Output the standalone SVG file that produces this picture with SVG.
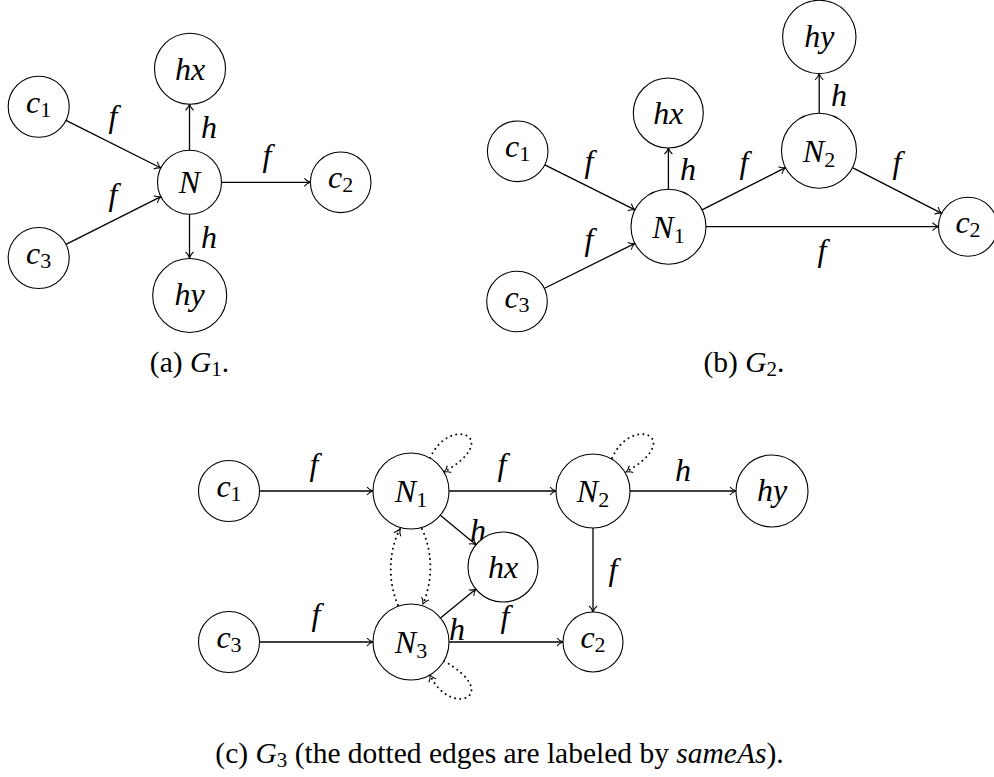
<svg xmlns="http://www.w3.org/2000/svg" width="994" height="777" viewBox="0 0 994 777">
<style>
.nd { fill: #fff; stroke: #000; stroke-width: 1.1; }
.e { fill: none; stroke: #000; stroke-width: 1.3; marker-end: url(#arr); }
.d { fill: none; stroke: #000; stroke-width: 2; stroke-linecap: round; stroke-dasharray: 0.01 5.2; marker-end: url(#arr); }
.m { font-family: "Liberation Serif", "Times New Roman", serif; font-style: italic; font-size: 32px; text-anchor: middle; fill: #000; }
.s { font-style: normal; font-size: 22px; }
.cap { font-family: "Liberation Serif", "Times New Roman", serif; font-size: 29.5px; text-anchor: middle; fill: #000; }
.i { font-style: italic; }
</style>
<defs>
<marker id="arr" markerUnits="userSpaceOnUse" viewBox="-8 -6 10 12" refX="0" refY="0" markerWidth="10" markerHeight="12" orient="auto" overflow="visible">
<path d="M-6,-4 C-4.5,-2 -1.5,-0.5 0,0 C-1.5,0.5 -4.5,2 -6,4" fill="none" stroke="#000" stroke-width="1.1" stroke-dasharray="none"/>
</marker>
</defs>

<g id="connectors">
<!-- G1 -->
<line class="e" x1="66" y1="120.4" x2="160.9" y2="168"/>
<line class="e" x1="66" y1="244.4" x2="160.9" y2="196.6"/>
<line class="e" x1="189.5" y1="150.3" x2="189.5" y2="104.2"/>
<line class="e" x1="189.5" y1="214.3" x2="189.5" y2="258"/>
<line class="e" x1="221.5" y1="182.3" x2="310.4" y2="182.3"/>
<!-- G2 -->
<line class="e" x1="544.8" y1="164.8" x2="635" y2="209.9"/>
<line class="e" x1="544.1" y1="288.5" x2="634.9" y2="243.4"/>
<line class="e" x1="668.4" y1="189.2" x2="668.4" y2="148"/>
<line class="e" x1="702" y1="209.8" x2="785.5" y2="167.6"/>
<line class="e" x1="819.2" y1="113.2" x2="819.2" y2="73.7"/>
<line class="e" x1="852.4" y1="167.7" x2="941.7" y2="213.3"/>
<line class="e" x1="706" y1="226.7" x2="938.5" y2="226.7"/>
<!-- G3 -->
<line class="e" x1="259.5" y1="491" x2="373" y2="491"/>
<line class="e" x1="449" y1="491" x2="556" y2="491"/>
<line class="e" x1="630" y1="491" x2="736" y2="491"/>
<line class="e" x1="593" y1="528" x2="593" y2="612"/>
<line class="e" x1="259.5" y1="642" x2="373" y2="642"/>
<line class="e" x1="449" y1="642" x2="563" y2="642"/>
<line class="e" x1="440.3" y1="515.2" x2="476" y2="544.7"/>
<line class="e" x1="440.5" y1="618" x2="475.9" y2="589.1"/>
<path class="d" d="M430,458 C450,414 504,438 444,472"/>
<path class="d" d="M612,458 C632,414 686,438 626,472"/>
<path class="d" d="M444,661 C504,695 450,719 430,675"/>
<path class="d" d="M398,605 C388,582 388,552 400,529"/>
<path class="d" d="M422,529 C433,553 433,580 423,604"/>
</g>

<g id="edge-labels">
<text class="m" x="113" y="127">f</text>
<text class="m" x="113" y="205">f</text>
<text class="m" x="209" y="138">h</text>
<text class="m" x="267" y="166">f</text>
<text class="m" x="209" y="248">h</text>
<text class="m" x="589" y="172">f</text>
<text class="m" x="589" y="250">f</text>
<text class="m" x="688" y="180">h</text>
<text class="m" x="744" y="173">f</text>
<text class="m" x="839" y="106">h</text>
<text class="m" x="897" y="173">f</text>
<text class="m" x="822" y="261">f</text>
<text class="m" x="314" y="475">f</text>
<text class="m" x="502" y="475">f</text>
<text class="m" x="683" y="481">h</text>
<text class="m" x="613" y="580">f</text>
<text class="m" x="316" y="625">f</text>
<text class="m" x="505" y="627">f</text>
<text class="m" x="478" y="541">h</text>
<text class="m" x="457" y="640">h</text>
</g>

<!-- G1 nodes -->
<g id="g1-c1"><circle class="nd" cx="38.7" cy="106.7" r="30.5"/><text class="m" x="38.7" y="112.7">c<tspan class="s" dy="4">1</tspan></text></g>
<g id="g1-c3"><circle class="nd" cx="38.7" cy="258" r="30.5"/><text class="m" x="38.7" y="264">c<tspan class="s" dy="4">3</tspan></text></g>
<g id="g1-hx"><circle class="nd" cx="190" cy="68.7" r="35.5"/><text class="m" x="190" y="79.5">hx</text></g>
<g id="g1-N"><circle class="nd" cx="189.5" cy="182.3" r="32"/><text class="m" x="189.5" y="193.3">N</text></g>
<g id="g1-c2"><circle class="nd" cx="340.7" cy="182.3" r="30.3"/><text class="m" x="340.7" y="188.3">c<tspan class="s" dy="4">2</tspan></text></g>
<g id="g1-hy"><circle class="nd" cx="189.7" cy="295.5" r="37"/><text class="m" x="189.7" y="305">hy</text></g>

<!-- G2 nodes -->
<g id="g2-c1"><circle class="nd" cx="517.7" cy="151.3" r="30.3"/><text class="m" x="517.7" y="157.3">c<tspan class="s" dy="4">1</tspan></text></g>
<g id="g2-c3"><circle class="nd" cx="517" cy="301.5" r="30.3"/><text class="m" x="517" y="307.5">c<tspan class="s" dy="4">3</tspan></text></g>
<g id="g2-hx"><circle class="nd" cx="668.3" cy="113" r="35"/><text class="m" x="668.3" y="123.5">hx</text></g>
<g id="g2-N1"><circle class="nd" cx="668.5" cy="226.7" r="37.5"/><text class="m" x="668.5" y="237.5">N<tspan class="s" dy="5">1</tspan></text></g>
<g id="g2-N2"><circle class="nd" cx="819" cy="150.7" r="37.5"/><text class="m" x="819" y="161.5">N<tspan class="s" dy="5">2</tspan></text></g>
<g id="g2-hy"><circle class="nd" cx="819.3" cy="37" r="36.7"/><text class="m" x="819.3" y="46.5">hy</text></g>
<g id="g2-c2"><circle class="nd" cx="968" cy="226.7" r="29.5"/><text class="m" x="968" y="232.7">c<tspan class="s" dy="4">2</tspan></text></g>

<!-- G3 nodes -->
<g id="g3-c1"><circle class="nd" cx="229" cy="491" r="30.5"/><text class="m" x="229" y="497">c<tspan class="s" dy="4">1</tspan></text></g>
<g id="g3-N1"><circle class="nd" cx="411" cy="491" r="38"/><text class="m" x="411" y="502">N<tspan class="s" dy="5">1</tspan></text></g>
<g id="g3-N2"><circle class="nd" cx="593" cy="491" r="37"/><text class="m" x="593" y="502">N<tspan class="s" dy="5">2</tspan></text></g>
<g id="g3-hy"><circle class="nd" cx="772" cy="491" r="36"/><text class="m" x="772" y="500.5">hy</text></g>
<g id="g3-hx"><circle class="nd" cx="503" cy="567" r="35"/><text class="m" x="503" y="577.5">hx</text></g>
<g id="g3-c3"><circle class="nd" cx="229" cy="642" r="30.5"/><text class="m" x="229" y="648">c<tspan class="s" dy="4">3</tspan></text></g>
<g id="g3-N3"><circle class="nd" cx="411" cy="642" r="38"/><text class="m" x="411" y="653">N<tspan class="s" dy="5">3</tspan></text></g>
<g id="g3-c2"><circle class="nd" cx="593" cy="642" r="30"/><text class="m" x="593" y="648">c<tspan class="s" dy="4">2</tspan></text></g>

<g id="captions">
<text class="cap" x="189.5" y="372">(a) <tspan class="i">G</tspan><tspan font-size="21" dy="4">1</tspan><tspan dy="-4">.</tspan></text>
<text class="cap" x="744" y="372">(b) <tspan class="i">G</tspan><tspan font-size="21" dy="4">2</tspan><tspan dy="-4">.</tspan></text>
<text class="cap" x="499.5" y="763">(c) <tspan class="i">G</tspan><tspan font-size="21" dy="4">3</tspan><tspan dy="-4"> (the dotted edges are labeled by </tspan><tspan class="i">sameAs</tspan>).</text>
</g>
</svg>
